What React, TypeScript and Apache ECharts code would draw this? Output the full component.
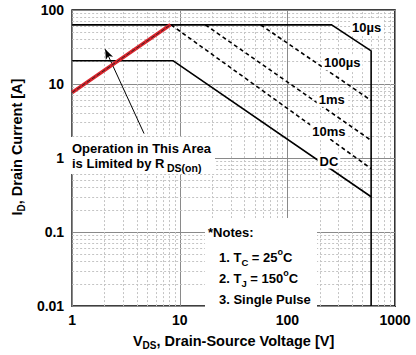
import React, { useEffect, useRef } from "react";
import * as echarts from "echarts";

// ---- axis ticks ----
const xTicks = [1, 10, 100, 1000];
const yTicks = [0.01, 0.1, 1, 10, 100];
const xMinor = [2, 3, 4, 5, 6, 7, 8, 9, 20, 30, 40, 50, 60, 70, 80, 90, 200, 300, 400, 500, 600, 700, 800, 900];
const yMinor = [0.02, 0.03, 0.04, 0.05, 0.06, 0.07, 0.08, 0.09, 0.2, 0.3, 0.4, 0.5, 0.6, 0.7, 0.8, 0.9, 2, 3, 4, 5, 6, 7, 8, 9, 20, 30, 40, 50, 60, 70, 80, 90];

// ---- SOA curves [V, A] ----
const limit10us: [number, number][] = [[1, 63], [258, 63], [600, 28], [600, 0.01]];
const limit100us: [number, number][] = [[56.5, 63], [600, 6.0]];
const limit1ms: [number, number][] = [[17.3, 63], [600, 1.73]];
const limit10ms: [number, number][] = [[8.3, 63], [600, 0.72]];
const limitDC: [number, number][] = [[1, 20.6], [8.7, 20.6], [600, 0.3]];
const limitRds: [number, number][] = [[1, 7.7], [8.2, 63]];

// ---- curve labels ----
const curveLabels = ["10µs", "100µs", "1ms", "10ms", "DC"];
const curveLabelPos: [number, number][] = [[546, 58.6], [324, 19.3], [258, 6.2], [243, 2.28], [243, 0.91]];

// ---- annotation arrow ----
const arrowTail: [number, number] = [4.66, 2.14];
const arrowHead: [number, number] = [2.03, 29.5];

const FONT = "'Liberation Sans', Arial, Helvetica, sans-serif";
const INK = "#000";

export default function App() {
  const ref = useRef<HTMLDivElement>(null);
  useEffect(() => {
    if (!ref.current) return;
    const chart = echarts.init(ref.current, null, { renderer: "svg" });
    const fmt = (ticks: number[]) => (v: number) => {
      const t = ticks.find((k) => Math.abs(Math.log10(k) - Math.log10(v)) < 1e-6);
      return t === undefined ? "" : String(t);
    };
    const curve = (name: string, data: [number, number][], type: any, color = "#000", width = 1.6, z = 5) => ({
      type: "line",
      name,
      data,
      symbol: "none",
      silent: true,
      z,
      lineStyle: { color, width, type },
    });
    const labelStyle = { fontFamily: FONT, fontWeight: "bold" as const, color: INK };
    const subRich = { fontSize: 10, fontWeight: "bold", fontFamily: FONT, color: INK, verticalAlign: "bottom", lineHeight: 10 };

    const option: any = {
      animation: false,
      grid: { left: 63, right: 21, top: 10, bottom: 43, show: true, borderColor: "#000", borderWidth: 1.6, backgroundColor: "#fff" },
      xAxis: {
        type: "log",
        logBase: 10,
        min: 1,
        max: 1000,
        axisLine: { show: false },
        axisTick: { show: false },
        splitLine: { show: true, lineStyle: { color: "#8a8a8a", width: 1 } },
        axisLabel: { formatter: fmt(xTicks), fontSize: 14, margin: 7, ...labelStyle },
        name: "V{sub|DS}, Drain-Source Voltage [V]",
        nameLocation: "middle",
        nameGap: 15,
        nameTextStyle: { fontSize: 14.5, ...labelStyle, rich: { sub: subRich }, lineHeight: 18 },
      },
      yAxis: {
        type: "log",
        logBase: 10,
        min: 0.01,
        max: 100,
        axisLine: { show: false },
        axisTick: { show: false },
        splitLine: { show: true, lineStyle: { color: "#8a8a8a", width: 1 } },
        axisLabel: { formatter: fmt(yTicks), fontSize: 14, margin: 8, ...labelStyle },
        name: "I{sub|D}, Drain Current [A]",
        nameLocation: "middle",
        nameRotate: 90,
        nameGap: 42,
        nameTextStyle: { fontSize: 14.5, ...labelStyle, padding: [0, 0, 0, 22], rich: { sub: subRich }, lineHeight: 18 },
      },
      series: [
        {
          type: "line",
          name: "minorGrid",
          data: [],
          silent: true,
          z: 1,
          markLine: {
            silent: true,
            symbol: ["none", "none"],
            label: { show: false },
            lineStyle: { color: "#c4c4c4", width: 1, type: [2, 2] },
            data: [...xMinor.map((v) => ({ xAxis: v })), ...yMinor.map((v) => ({ yAxis: v }))],
          },
        },
        curve("10µs", limit10us, "solid"),
        curve("100µs", limit100us, [4, 3]),
        curve("1ms", limit1ms, [4, 3]),
        curve("10ms", limit10ms, [4, 3]),
        curve("DC", limitDC, "solid"),
        curve("RDS(on) limit", limitRds, "solid", "#d9232b", 3.6, 6),
        curve("RDS(on) limit core", limitRds, [4, 2], "#222", 0.9, 7),
        {
          type: "line",
          name: "arrow",
          data: [],
          silent: true,
          z: 8,
          markLine: {
            silent: true,
            symbol: ["none", "arrow"],
            symbolSize: [6, 10],
            label: { show: false },
            lineStyle: { color: "#000", width: 1, type: "solid" },
            data: [[{ coord: arrowTail }, { coord: arrowHead }]],
          },
        },
        {
          type: "scatter",
          name: "labels",
          silent: true,
          z: 9,
          symbol: "circle",
          symbolSize: 0,
          itemStyle: { color: "#000" },
          data: curveLabels.map((n, i) => ({ name: n, value: curveLabelPos[i] })),
          label: {
            show: true,
            position: "inside",
            formatter: (p: any) => p.name,
            fontSize: 13,
            ...labelStyle,
            textBorderWidth: 0,
            opacity: 1,
            backgroundColor: "#fff",
            padding: [1, 2],
          },
        },
      ],
      graphic: [
        // annotation text box
        { type: "rect", z: 20, shape: { x: 67, y: 137, width: 148, height: 37 }, style: { fill: "#fff" } },
        { type: "text", z: 21, x: 72, y: 148, style: { text: "Operation in This Area", font: `bold 13px ${FONT}`, fill: INK, textVerticalAlign: "middle" } },
        { type: "text", z: 21, x: 72, y: 163, style: { text: "is Limited by R", font: `bold 13px ${FONT}`, fill: INK, textVerticalAlign: "middle" } },
        { type: "text", z: 21, x: 167, y: 167.5, style: { text: "DS(on)", font: `bold 10.5px ${FONT}`, fill: INK, textVerticalAlign: "middle" } },
        // notes box
        { type: "rect", z: 20, shape: { x: 205, y: 218, width: 112, height: 92.5 }, style: { fill: "#fff" } },
        { type: "text", z: 21, x: 208, y: 232, style: { text: "*Notes:", font: `bold 13px ${FONT}`, fill: INK, textVerticalAlign: "middle" } },
        {
          type: "text", z: 21, x: 219, y: 257,
          style: {
            text: "1. T{sub|C} = 25{sup|o}C", font: `bold 13px ${FONT}`, fill: INK, textVerticalAlign: "middle", lineHeight: 20,
            rich: {
              sub: { font: `bold 9.5px ${FONT}`, fill: INK, verticalAlign: "bottom", lineHeight: 12 },
              sup: { font: `bold 9px ${FONT}`, fill: INK, verticalAlign: "top", lineHeight: 8 },
            },
          },
        },
        {
          type: "text", z: 21, x: 219, y: 278,
          style: {
            text: "2. T{sub|J} = 150{sup|o}C", font: `bold 13px ${FONT}`, fill: INK, textVerticalAlign: "middle", lineHeight: 20,
            rich: {
              sub: { font: `bold 9.5px ${FONT}`, fill: INK, verticalAlign: "bottom", lineHeight: 12 },
              sup: { font: `bold 9px ${FONT}`, fill: INK, verticalAlign: "top", lineHeight: 8 },
            },
          },
        },
        { type: "text", z: 21, x: 219, y: 299, style: { text: "3. Single Pulse", font: `bold 13px ${FONT}`, fill: INK, textVerticalAlign: "middle" } },
      ],
    };
    chart.setOption(option);
    return () => chart.dispose();
  }, []);
  return <div ref={ref} style={{ position: "fixed", left: 0, top: 0, width: 416, height: 355, background: "#fff" }} />;
}
